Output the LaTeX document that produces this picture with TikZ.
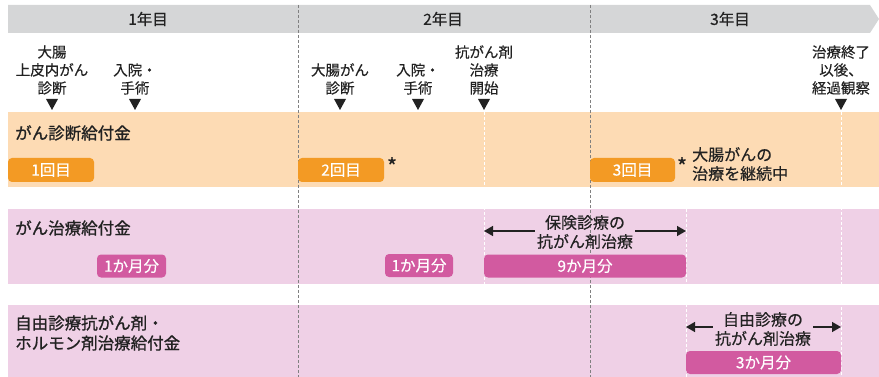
\documentclass[tikz,border=0pt]{standalone}
\usepackage{fontspec}
\setmainfont{Noto Sans CJK JP}[FakeBold=0.35]
\newfontfamily\titlefont{Noto Sans CJK JP}[FakeBold=1.1]
\usetikzlibrary{positioning,arrows.meta}
\definecolor{hdgray}{HTML}{D5D6D7}
\definecolor{peach}{HTML}{FDDBB4}
\definecolor{lilac}{HTML}{EFD0E6}
\definecolor{pillorange}{HTML}{F39A24}
\definecolor{pillpink}{HTML}{D25AA0}
\definecolor{ink}{HTML}{222222}
\tikzset{event node/.style={align=center,inner sep=0pt,text=ink,font=\fontsize{14.5}{18}\selectfont},
  title node/.style={anchor=west,align=left,inner sep=0pt,text=ink,font=\titlefont\fontsize{16.5}{20}\selectfont},
  year node/.style={inner sep=0pt,text=ink,font=\fontsize{15.5}{18}\selectfont},
  pill node/.style={rounded corners=4pt,inner sep=0pt,text=white,font=\fontsize{15.5}{18}\selectfont},
  span node/.style={align=center,inner sep=2pt,text=ink,font=\fontsize{16}{19}\selectfont},
  span arrow/.style={ink,line width=1.4pt,-{Triangle[length=9pt,width=10pt]}} }

\begin{document}
\begin{tikzpicture}[x=1pt,y=-1pt]
\useasboundingbox (0,0) rectangle (879,377);

  % bands
  \fill[hdgray] (8,5) -- (870,5) -- (879,19) -- (870,33) -- (8,33) -- cycle;
  \fill[peach] (8,112) rectangle (879,187);
  \fill[lilac] (8,209) rectangle (879,284);
  \fill[lilac] (8,305) rectangle (879,377);

  % year borders
  \foreach \x in {298,590}
    \draw[gray,line width=0.8pt,dash pattern=on 3pt off 2pt] (\x,5) -- (\x,377);
  \draw[white,line width=0.8pt,dash pattern=on 3pt off 2pt] (484,112) -- (484,284);
  \draw[white,line width=0.8pt,dash pattern=on 3pt off 2pt] (686,209) -- (686,377);
  \draw[white,line width=0.8pt,dash pattern=on 3pt off 2pt] (841,112) -- (841,377);

  \node[year node] (y1) at (148,19) {1年目};
  \node[year node] (y2) at (443,19) {2年目};
  \node[year node] (y3) at (730,19) {3年目};

  % events
  \node[event node] (e1) at (52,70) {大腸\\上皮内がん\\診断};
  \node[event node] (e2) at (135,79) {入院・\\手術};
  \node[event node] (e3) at (340,79) {大腸がん\\診断};
  \node[event node] (e4) at (418,79) {入院・\\手術};
  \node[event node] (e5) at (484,70) {抗がん剤\\治療\\開始};
  \node[event node] (e6) at (841,70) {治療終了\\以後、\\経過観察};
  \foreach \x in {52,135,340,418,484,841}
    \fill[ink] (\x-6,99) -- (\x+6,99) -- (\x,110) -- cycle;

  % がん診断給付金
  \node[title node] (t1) at (15,133) {がん診断給付金};
  \node[pill node,fill=pillorange,minimum width=86pt,minimum height=24pt] (o1) at (51,170) {1回目};
  \node[pill node,fill=pillorange,minimum width=86pt,minimum height=24pt] (o2) at (341,170) {2回目};
  \node[pill node,fill=pillorange,minimum width=85pt,minimum height=24pt] (o3) at (632.5,170) {3回目};
  \node[span node,inner sep=0pt,font=\fontsize{22}{22}\selectfont] (s2) at (392,166) {*};
  \node[span node,inner sep=0pt,font=\fontsize{22}{22}\selectfont] (s3) at (682,166) {*};
  \node[span node,anchor=west,align=left,inner sep=0pt] (cont) at (692,164) {大腸がんの\\治療を継続中};

  % がん治療給付金
  \node[title node] (t2) at (15,228) {がん治療給付金};
  \node[pill node,fill=pillpink,minimum width=69pt,minimum height=23pt] (p1) at (131.5,266) {1か月分};
  \node[pill node,fill=pillpink,minimum width=68pt,minimum height=23pt] (p2) at (419,265.5) {1か月分};
  \node[pill node,fill=pillpink,minimum width=202pt,minimum height=23pt] (p9) at (585,266) {9か月分};
  \node[span node] (ins) at (585,232) {保険診療の\\抗がん剤治療};
  \coordinate (insl) at (484,231);
  \coordinate (insr) at (686,231);
  \draw[span arrow] (ins.west |- insl) -- (insl);
  \draw[span arrow] (ins.east |- insr) -- (insr);

  % 自由診療抗がん剤・ホルモン剤治療給付金
  \node[title node] (t3) at (15,333) {自由診療抗がん剤・\\ホルモン剤治療給付金};
  \node[pill node,fill=pillpink,minimum width=155pt,minimum height=23pt] (p3) at (763.5,362.5) {3か月分};
  \node[span node] (free) at (763,329) {自由診療の\\抗がん剤治療};
  \coordinate (freel) at (686,327);
  \coordinate (freer) at (841,327);
  \draw[span arrow] (free.west |- freel) -- (freel);
  \draw[span arrow] (free.east |- freer) -- (freer);
\end{tikzpicture}
\end{document}
